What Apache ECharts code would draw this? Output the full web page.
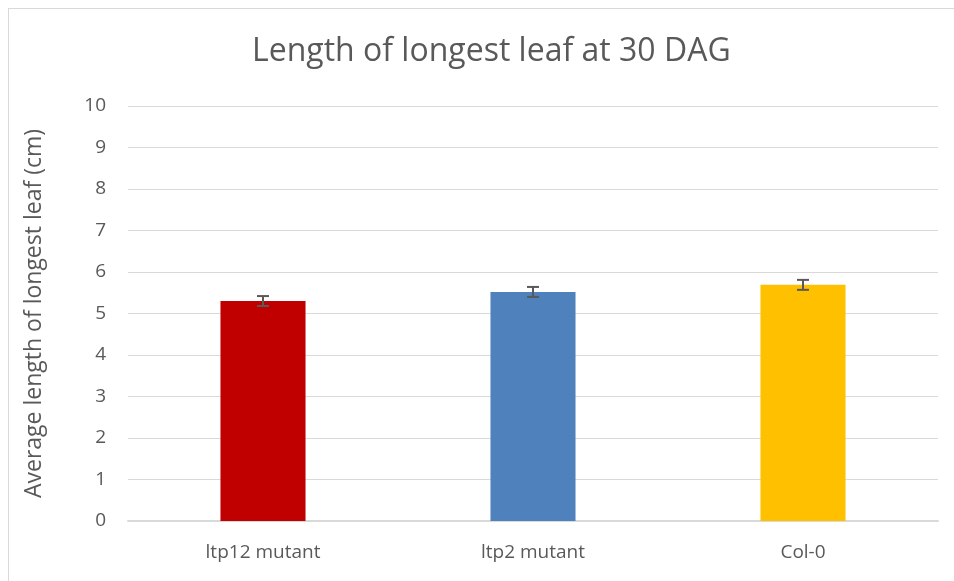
<!DOCTYPE html>
<html>
<head>
<meta charset="utf-8">
<script src="https://cdn.jsdelivr.net/npm/echarts@6/dist/echarts.min.js"></script>
<style>
  html, body { margin: 0; padding: 0; background: #fff; }
  #frame {
    position: absolute; left: 8px; top: 8px; width: 960px; height: 600px;
    border: 1px solid #d9d9d9; box-sizing: border-box;
  }
  #chart { position: absolute; left: 0; top: 0; width: 954px; height: 581px; }
</style>
</head>
<body>
<div id="frame"></div>
<div id="chart"></div>
<script>
const categories = ['ltp12 mutant', 'ltp2 mutant', 'Col-0']
const means = [5.3, 5.52, 5.69]
const errors = [0.12, 0.12, 0.12]
const barColors = ['#c00000', '#4f81bd', '#ffc000']

const chart = echarts.init(document.getElementById('chart'))
const textColor = '#595959'
const font = 'Open Sans, Lato, sans-serif'

chart.setOption({
  animation: false,
  title: {
    text: 'Length of longest leaf at 30 DAG',
    left: 247,
    top: 31,
    textStyle: { color: textColor, fontSize: 32, fontWeight: 'normal', fontFamily: font },
  },
  grid: { left: 128, right: 16, top: 106, bottom: 60 },
  xAxis: {
    type: 'category',
    data: categories,
    axisLine: { lineStyle: { color: '#d9d9d9', width: 2 } },
    axisTick: { show: false },
    axisLabel: { color: textColor, fontSize: 19, fontFamily: font, margin: 22 },
  },
  yAxis: {
    type: 'value',
    min: 0,
    max: 10,
    interval: 1,
    name: 'Average length of longest leaf (cm)',
    nameLocation: 'middle',
    nameGap: 82,
    nameTextStyle: { color: textColor, fontSize: 23, fontFamily: font },
    axisLine: { show: false },
    axisTick: { show: false },
    axisLabel: { color: textColor, fontSize: 19, fontFamily: font, margin: 22 },
    splitLine: { lineStyle: { color: '#d9d9d9', width: 1 } },
  },
  series: [
    {
      type: 'bar',
      barWidth: '31.5%',
      data: means.map((v, i) => ({ value: v, itemStyle: { color: barColors[i] } })),
    },
    {
      type: 'custom',
      z: 10,
      data: means.map((v, i) => [i, v - errors[i], v + errors[i]]),
      renderItem: (params, api) => {
        const lo = api.coord([api.value(0), api.value(1)])
        const hi = api.coord([api.value(0), api.value(2)])
        const half = 6
        const style = { stroke: '#595959', lineWidth: 2 }
        return {
          type: 'group',
          children: [
            { type: 'line', shape: { x1: lo[0], y1: lo[1], x2: hi[0], y2: hi[1] }, style },
            { type: 'line', shape: { x1: hi[0] - half, y1: hi[1], x2: hi[0] + half, y2: hi[1] }, style },
            { type: 'line', shape: { x1: lo[0] - half, y1: lo[1], x2: lo[0] + half, y2: lo[1] }, style },
          ],
        }
      },
    },
  ],
})
</script>
</body>
</html>
